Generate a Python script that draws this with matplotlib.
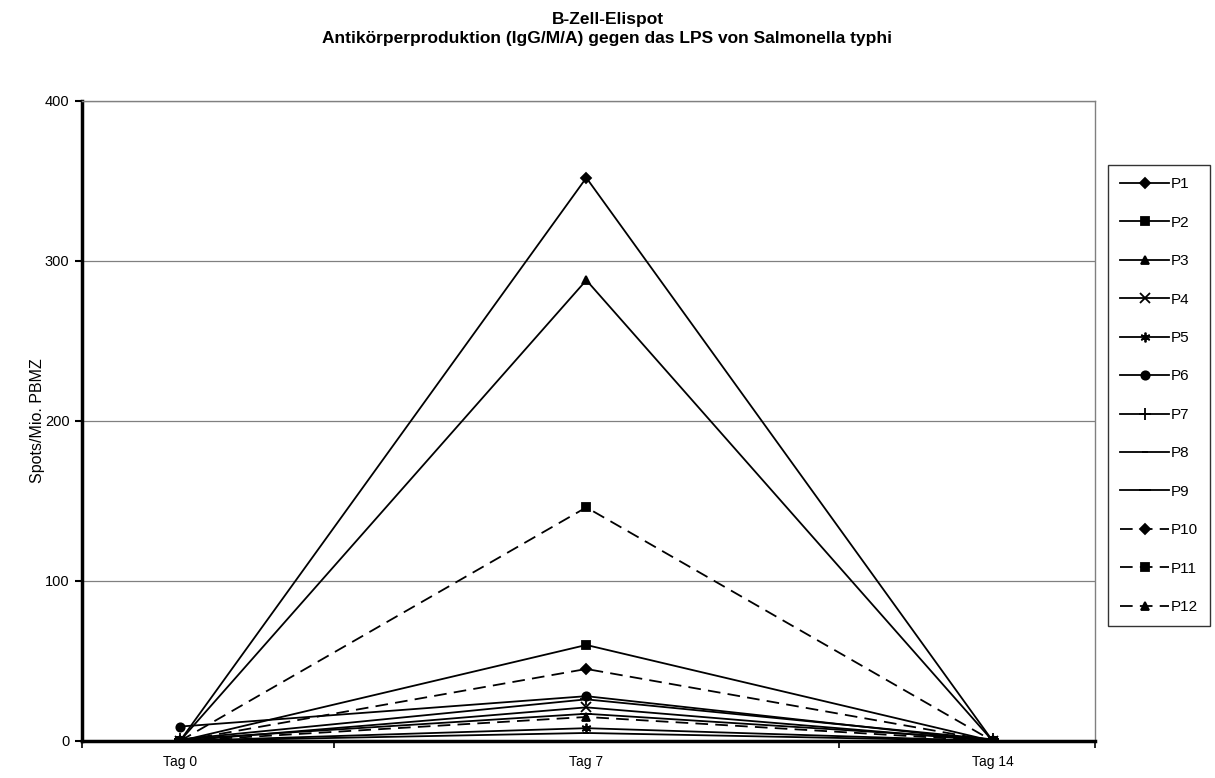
import matplotlib
matplotlib.use("Agg")
import matplotlib.pyplot as plt

plt.rcParams['font.family'] = ['Liberation Sans', 'DejaVu Sans']

days = ["Tag 0", "Tag 7", "Tag 14"]
names = ["P1", "P2", "P3", "P4", "P5", "P6", "P7", "P8", "P9", "P10", "P11", "P12"]

p1 = [0, 352, 0]
p2 = [0, 60, 0]
p3 = [0, 288, 0]
p4 = [0, 21, 0]
p5 = [0, 8, 0]
p6 = [9, 28, 0]
p7 = [1, 26, 1]
p8 = [0, 5, 0]
p9 = [1, 17, 1]
p10 = [0, 45, 0]
p11 = [0, 146, 0]
p12 = [0, 15, 0]
series = [p1, p2, p3, p4, p5, p6, p7, p8, p9, p10, p11, p12]

markers = ['D', 's', '^', 'x', (6, 2, 0), 'o', '+', '_', '_', 'D', 's', '^']
msizes = [5, 6, 6, 7, 7, 6, 8, 4, 8, 5, 6, 6]

fig = plt.figure(figsize=(12.15, 7.78), dpi=100)
ax = fig.add_axes([0.0675, 0.0476, 0.8335, 0.8226])

x = list(range(len(days)))
for i, vals in enumerate(series):
    ls = (0, (7, 4)) if i >= 9 else '-'
    ax.plot(x, vals, color='black', lw=1.3, linestyle=ls, marker=markers[i],
            markersize=msizes[i], markeredgewidth=1.3, label=names[i], zorder=3)

ax.set_ylim(0, 400)
ax.set_xlim(-0.241, 2.251)
ax.set_yticks([0, 100, 200, 300, 400])
ax.set_xticks(x)
ax.set_xticklabels(days)
ax.set_xticks([-0.241, 0.379, 1.0, 1.621, 2.251], minor=True)
ax.tick_params(axis='x', which='major', length=0, pad=10, labelsize=10)
ax.tick_params(axis='x', which='minor', length=5, width=1.2, direction='out')
ax.tick_params(axis='y', length=5, width=1.5, direction='out', labelsize=10.5, pad=4)

ax.grid(axis='y', color='#808080', lw=0.9)
ax.set_axisbelow(True)
for s in ['top', 'right']:
    ax.spines[s].set_color('#808080')
    ax.spines[s].set_linewidth(1.0)
for s in ['left', 'bottom']:
    ax.spines[s].set_color('black')
    ax.spines[s].set_linewidth(2.5)

ax.set_ylabel("Spots/Mio. PBMZ", fontsize=11.5, labelpad=0)

fig.suptitle("B-Zell-Elispot\nAntikörperproduktion (IgG/M/A) gegen das LPS von Salmonella typhi",
             fontsize=12.5, fontweight='bold', x=0.5, y=0.984, linespacing=1.3)

leg = fig.legend(loc='upper left', bbox_to_anchor=(1108 / 1215, 1 - 165 / 778),
                 fontsize=11, handlelength=3.2, labelspacing=1.6, handletextpad=0.1,
                 borderpad=0.8, frameon=True, fancybox=False, edgecolor='black',
                 borderaxespad=0)
leg.get_frame().set_linewidth(1.0)

fig.savefig("out.png", dpi=100)
